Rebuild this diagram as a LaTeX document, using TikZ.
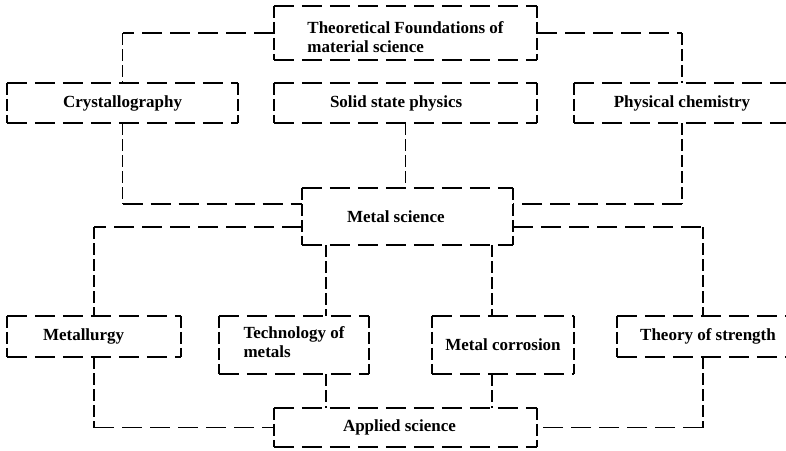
\documentclass[tikz,border=0pt]{standalone}
\usepackage{fontspec}
\setmainfont{Liberation Serif}
\begin{document}
\begin{tikzpicture}[x=1pt,y=-1pt,
    box/.style={inner sep=0pt,font=\fontsize{17}{19}\selectfont\bfseries},
    padl/.style={text width=#1,align=flush left},
    hdash/.style={line width=1.5pt,dash pattern=on 20pt off 8pt},
    vdash/.style={line width=1.5pt,dash pattern=on 12pt off 4pt}]
  \path[use as bounding box,clip] (0,0) rectangle (786,450);
  % boxes
  \node[box,minimum width=263pt,minimum height=54pt,align=left] (found) at (405.5,33) {\rule{0pt}{20pt}Theoretical Foundations of\\material science};
  \node[box,minimum width=231pt,minimum height=40pt] (cryst) at (122.5,103) {Crystallography};
  \node[box,minimum width=263pt,minimum height=40pt,padl=151pt] (ssp) at (405.5,103) {Solid state physics};
  \node[box,minimum width=216pt,minimum height=40pt] (pchem) at (682,103) {Physical chemistry};
  \node[box,minimum width=211pt,minimum height=57pt,padl=121pt] (ms) at (407.5,216.5) {Metal science};
  \node[box,minimum width=174pt,minimum height=41pt,padl=102pt] (metal) at (94,336.5) {Metallurgy};
  \node[box,minimum width=150pt,minimum height=58pt,align=left] (tech) at (294,345) {Technology of\\metals\rule[-5pt]{0pt}{5pt}};
  \node[box,minimum width=142pt,minimum height=58pt] (corr) at (503,345) {Metal corrosion};
  \node[box,minimum width=182pt,minimum height=41pt] (strength) at (708,336.5) {Theory of strength};
  \node[box,minimum width=263pt,minimum height=39pt,padl=125pt] (applied) at (405.5,427.5) {Applied science};
  \foreach \n in {found,cryst,ssp,pchem,ms,metal,tech,corr,strength,applied} {
    \draw[hdash] (\n.north west) -- (\n.north east) (\n.south west) -- (\n.south east);
    \draw[vdash] (\n.north west) -- (\n.south west) (\n.north east) -- (\n.south east);
  }
  % attachment points
  \coordinate (ms-in-l) at ([yshift=12.5pt]ms.west);
  \coordinate (ms-in-r) at ([yshift=12.5pt]ms.east);
  \coordinate (ms-out-l) at ([yshift=-10.5pt]ms.west);
  \coordinate (ms-out-r) at ([yshift=-10.5pt]ms.east);
  \coordinate (ms-tech) at ([xshift=-81.5pt]ms.south);
  \coordinate (ms-corr) at ([xshift=84.5pt]ms.south);
  \coordinate (str-top) at ([xshift=-5pt]strength.north);
  \coordinate (str-bot) at ([xshift=-5pt]strength.south);
  % connectors
  \draw[hdash] (found.west) -- (cryst.north |- found.west);
  \draw[vdash] (cryst.north |- found.west) -- (cryst.north);
  \draw[hdash] (found.east) -- (pchem.north |- found.east);
  \draw[vdash] (pchem.north |- found.east) -- (pchem.north);
  \draw[vdash] (cryst.south) -- (cryst.south |- ms-in-l);
  \draw[hdash] (cryst.south |- ms-in-l) -- (ms-in-l);
  \draw[vdash] (ssp.south) -- (ssp.south |- ms.north);
  \draw[vdash] (pchem.south) -- (pchem.south |- ms-in-r);
  \draw[hdash] (pchem.south |- ms-in-r) -- (ms-in-r);
  \draw[hdash] (ms-out-l) -- (metal.north |- ms-out-l);
  \draw[vdash] (metal.north |- ms-out-l) -- (metal.north);
  \draw[hdash] (ms-out-r) -- (str-top |- ms-out-r);
  \draw[vdash] (str-top |- ms-out-r) -- (str-top);
  \draw[vdash] (ms-tech) -- (ms-tech |- tech.north);
  \draw[vdash] (ms-corr) -- (ms-corr |- corr.north);
  \draw[vdash] (metal.south) -- (metal.south |- applied.west);
  \draw[hdash] (metal.south |- applied.west) -- (applied.west);
  \draw[vdash] (ms-tech |- tech.south) -- (ms-tech |- applied.north);
  \draw[vdash] (ms-corr |- corr.south) -- (ms-corr |- applied.north);
  \draw[vdash] (str-bot) -- (str-bot |- applied.east);
  \draw[hdash] (str-bot |- applied.east) -- (applied.east);
\end{tikzpicture}
\end{document}
